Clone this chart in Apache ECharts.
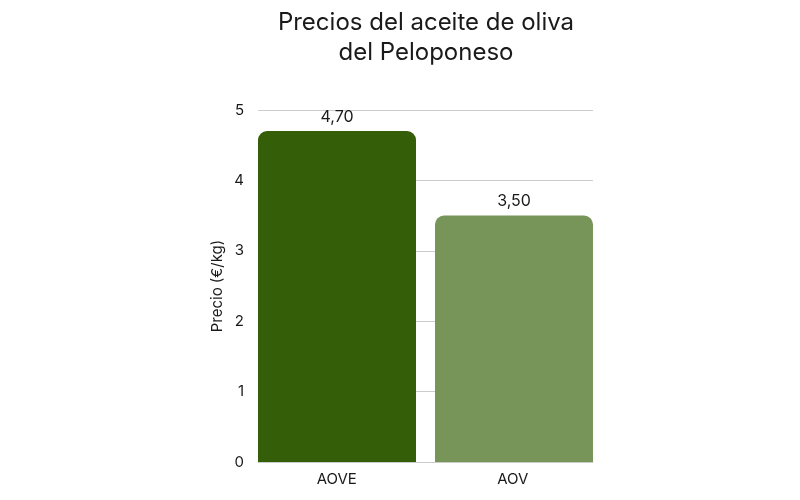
<!DOCTYPE html>
<html>
<head>
<meta charset="utf-8">
<script src="https://cdn.jsdelivr.net/npm/echarts@6/dist/echarts.min.js"></script>
<style>
  html, body { margin: 0; padding: 0; background: #fff; }
  #chart { width: 800px; height: 500px; }
</style>
</head>
<body>
<div id="chart"></div>
<script>
var categories = ['AOVE', 'AOV'];
var precios = [4.70, 3.50];
var barColors = ['#345e07', '#779558'];

var chart = echarts.init(document.getElementById('chart'));

// una serie por categoría para poder pegar las barras a los bordes
var series = categories.map(function (name, i) {
  return {
    name: name,
    type: 'bar',
    barWidth: 158,
    barGap: '-94%',
    data: precios.map(function (v, j) { return j === i ? v : '-'; }),
    itemStyle: { color: barColors[i], borderRadius: [9, 9, 0, 0] },
    label: {
      show: true,
      position: 'top',
      distance: 6,
      fontFamily: 'Inter',
      fontSize: 16,
      color: '#1a1a1a',
      formatter: function (p) { return p.value.toFixed(2).replace('.', ','); }
    }
  };
});

var option = {
  animation: false,
  title: {
    text: 'Precios del aceite de oliva\ndel Peloponeso',
    left: 421,
    textAlign: 'center',
    top: 3,
    textStyle: { fontFamily: 'Inter', fontSize: 24, fontWeight: 'normal', color: '#1a1a1a', lineHeight: 30 }
  },
  grid: { left: 258, right: 207, top: 110, bottom: 38 },
  xAxis: {
    type: 'category',
    data: categories,
    axisTick: { show: false },
    axisLine: { lineStyle: { color: '#ccc' } },
    axisLabel: {
      fontFamily: 'Inter', fontSize: 15, color: '#1a1a1a', margin: 10,
      formatter: function (v, i) { return i === 0 ? '{a|' + v + '}' : '{b|' + v + '}'; },
      rich: {
        a: { fontFamily: 'Inter', fontSize: 15, color: '#1a1a1a', padding: [0, 10, 0, 0] },
        b: { fontFamily: 'Inter', fontSize: 15, color: '#1a1a1a', padding: [0, 0, 0, 7] }
      }
    }
  },
  yAxis: {
    type: 'value',
    min: 0,
    max: 5,
    interval: 1,
    name: 'Precio (€/kg)',
    nameLocation: 'middle',
    nameGap: 33,
    nameTextStyle: { fontFamily: 'Inter', fontSize: 15, color: '#1a1a1a' },
    axisLabel: { fontFamily: 'Inter', fontSize: 15, color: '#1a1a1a', margin: 14 },
    splitLine: { lineStyle: { color: '#ccc' } }
  },
  series: series
};

chart.setOption(option);
</script>
</body>
</html>
